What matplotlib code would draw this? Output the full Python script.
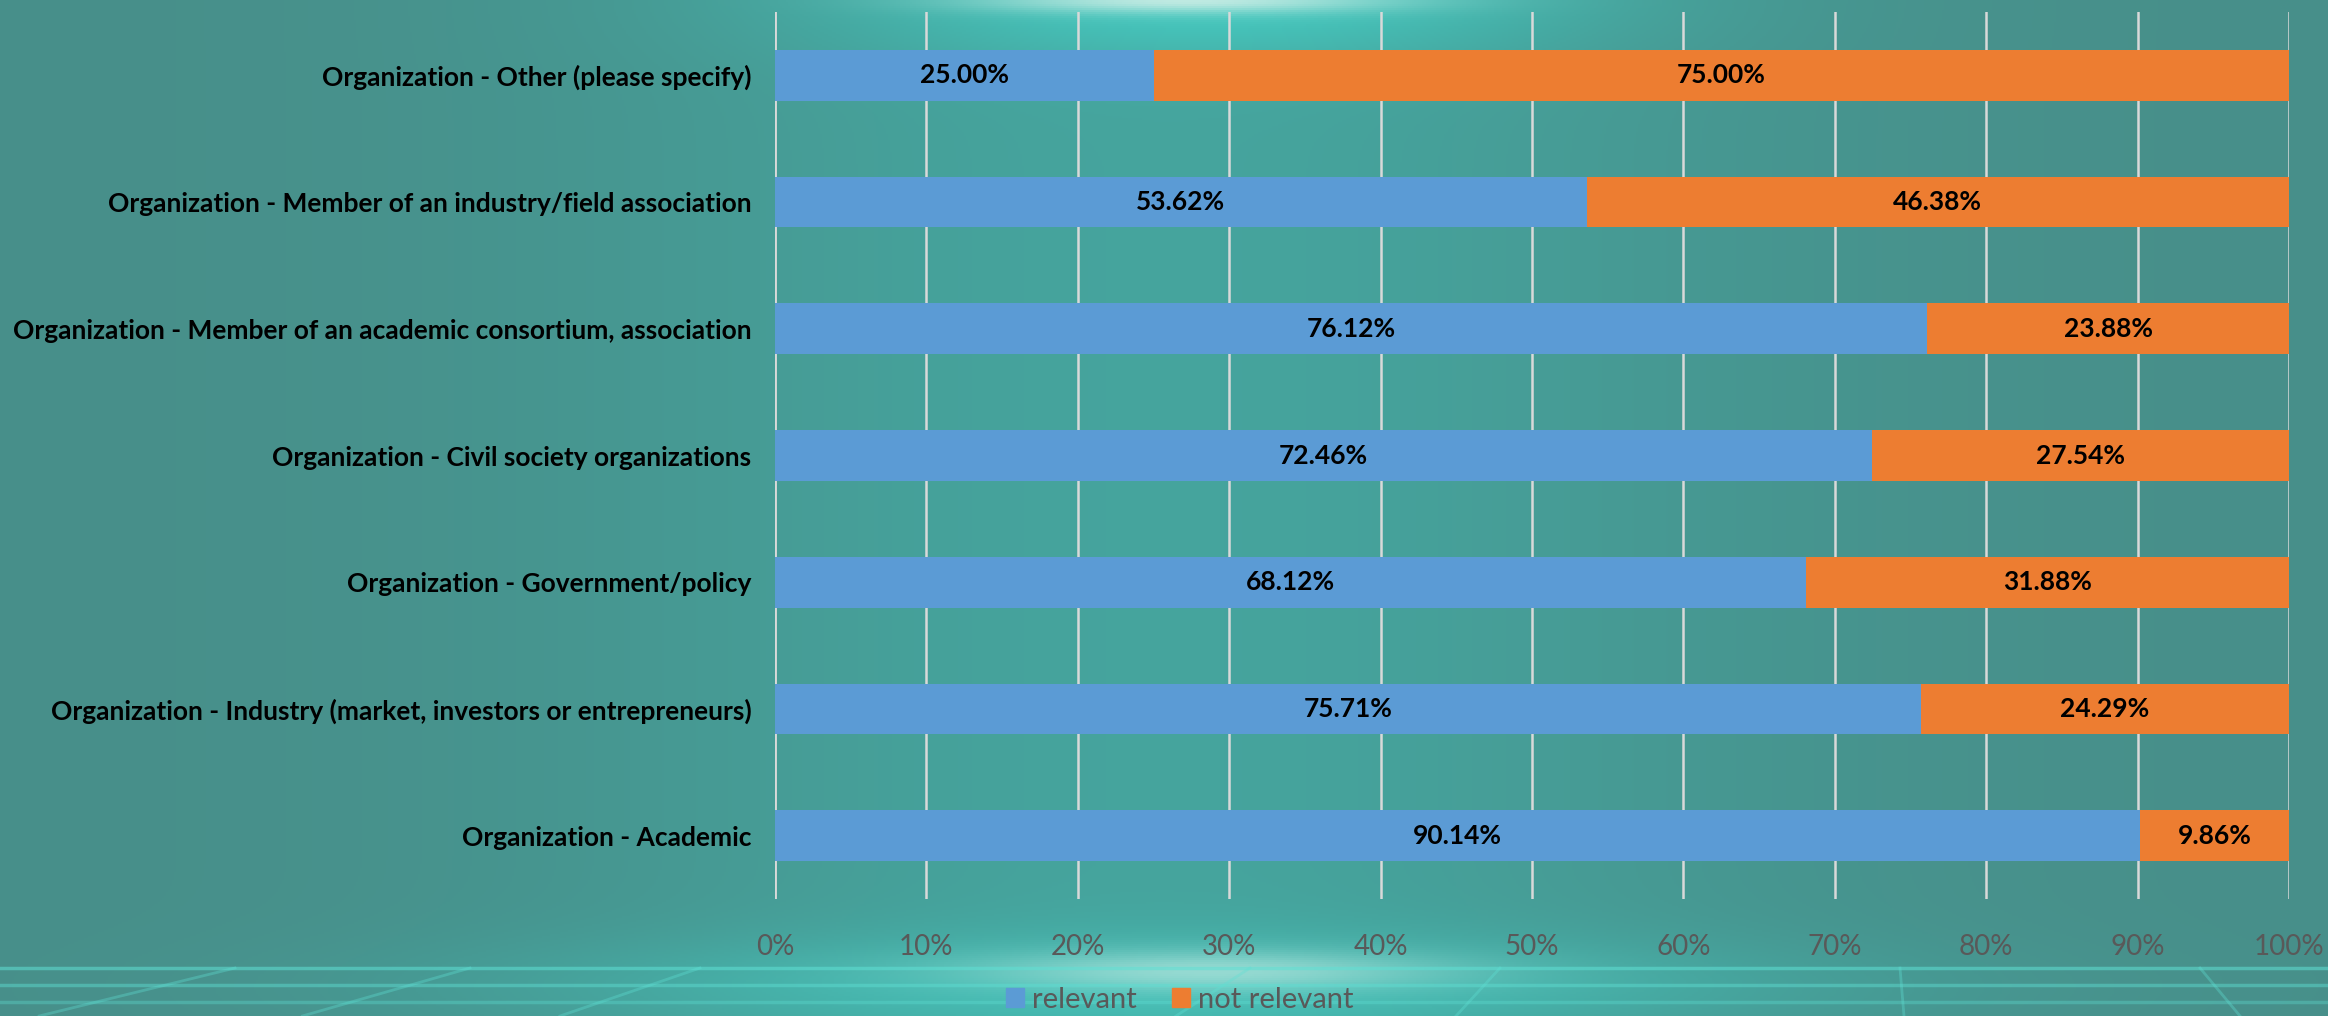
import numpy as np
import matplotlib
matplotlib.use("Agg")
import matplotlib.pyplot as plt
from matplotlib.patches import Patch

categories = [
    "Organization - Academic",
    "Organization - Industry (market, investors or entrepreneurs)",
    "Organization - Government/policy",
    "Organization - Civil society organizations",
    "Organization - Member of an academic consortium, association",
    "Organization - Member of an industry/field association",
    "Organization - Other (please specify)",
]
relevant = [90.14, 75.71, 68.12, 72.46, 76.12, 53.62, 25.00]
not_relevant = [9.86, 24.29, 31.88, 27.54, 23.88, 46.38, 75.00]
xticks = [0, 10, 20, 30, 40, 50, 60, 70, 80, 90, 100]
series_names = ["relevant", "not relevant"]

W, H = 2328, 1016
fig = plt.figure(figsize=(W / 100, H / 100), dpi=100)

# ---- background decoration ----
bg = fig.add_axes([0, 0, 1, 1])
yy, xx = np.mgrid[0:H:2, 0:W:2]
xn = xx / W
yn = yy / H  # 0 at top
base = np.array([0.28, 0.56, 0.54])
light = np.array([0.27, 0.68, 0.65])
glow_c = np.exp(-((xn - 0.50) / 0.25) ** 2)
img = base * (1 - 0.7 * glow_c[..., None]) + light * 0.7 * glow_c[..., None]
cyan = np.array([0.27, 0.82, 0.78])
top_cyan = np.exp(-((xn - 0.52) / 0.15) ** 2 - (yn / 0.06) ** 2)
img = img * (1 - 0.8 * top_cyan[..., None]) + cyan * 0.8 * top_cyan[..., None]
white = np.array([0.80, 0.93, 0.90])
top_glow = np.exp(-((xn - 0.51) / 0.09) ** 2 - (yn / 0.012) ** 2)
img = img * (1 - 0.9 * top_glow[..., None]) + white * 0.9 * top_glow[..., None]
bot_cyan = np.exp(-((xn - 0.5) / 0.25) ** 2 - ((yn - 0.97) / 0.05) ** 2)
img = img * (1 - 0.6 * bot_cyan[..., None]) + cyan * 0.6 * bot_cyan[..., None]
bot_glow = np.exp(-((xn - 0.52) / 0.1) ** 2 - ((yn - 0.955) / 0.02) ** 2)
img = img * (1 - 0.6 * bot_glow[..., None]) + white * 0.6 * bot_glow[..., None]
img = np.clip(img, 0, 1)
bg.imshow(img, aspect="auto", extent=[0, 1, 0, 1], origin="upper")
for ly, a in [(968, 0.55), (985, 0.45), (1002, 0.35)]:
    bg.plot([0, 1], [1 - ly / H, 1 - ly / H], color="#5fe0d4", alpha=a, lw=2.5)
for x0 in [235, 470, 700, 1250, 1500, 1900, 2200]:
    x1 = x0 - (1200 - x0) * 0.12 - 80
    bg.plot([x0 / W, x1 / W], [1 - 968 / H, 0], color="#5fe0d4", alpha=0.35, lw=2)
bg.set_xlim(0, 1)
bg.set_ylim(0, 1)
bg.set_axis_off()

# ---- chart ----
ax = fig.add_axes([775 / W, 1 - 899 / H, (2289 - 775) / W, (899 - 12) / H])
ax.patch.set_alpha(0)
ypos = np.arange(len(categories))
blue = "#5B9BD5"
orange = "#ED7D31"
ax.barh(ypos, relevant, height=0.4, color=blue, zorder=3)
ax.barh(ypos, not_relevant, left=relevant, height=0.4, color=orange, zorder=3)

lab_font = dict(fontfamily="Lato", fontweight="bold", fontsize=19, color="black")
for y, r, n in zip(ypos, relevant, not_relevant):
    ax.text(r / 2, y, f"{r:.2f}%", ha="center", va="center", zorder=4, **lab_font)
    ax.text(r + n / 2, y, f"{n:.2f}%", ha="center", va="center", zorder=4, **lab_font)

ax.set_xlim(0, 100)
ax.set_ylim(-0.5, len(categories) - 0.5)
ax.set_xticks(xticks)
ax.set_xticklabels([f"{t}%" for t in xticks], fontfamily="Lato", fontsize=20, color="#595959")
ax.set_yticks(ypos)
ax.set_yticklabels(categories, fontfamily="Lato", fontweight="bold", fontsize=19, color="black")
ax.tick_params(axis="x", length=0, pad=25)
ax.tick_params(axis="y", length=0, pad=17)
ax.grid(axis="x", color="#D9D9D9", linewidth=1.8, zorder=1)
for s in ax.spines.values():
    s.set_visible(False)
ax.axvline(0, color="#D9D9D9", linewidth=1.8, zorder=2)

handles = [Patch(color=blue, label=series_names[0]), Patch(color=orange, label=series_names[1])]
fig.legend(handles=handles, loc="center", bbox_to_anchor=(1180 / W, 1 - 1000 / H), ncol=2,
           frameon=False, prop=dict(family="Lato", size=21), labelcolor="#595959",
           handlelength=0.6, handleheight=0.6, handletextpad=0.3, columnspacing=1.2, borderpad=0)

fig.savefig("out.png", dpi=100)
